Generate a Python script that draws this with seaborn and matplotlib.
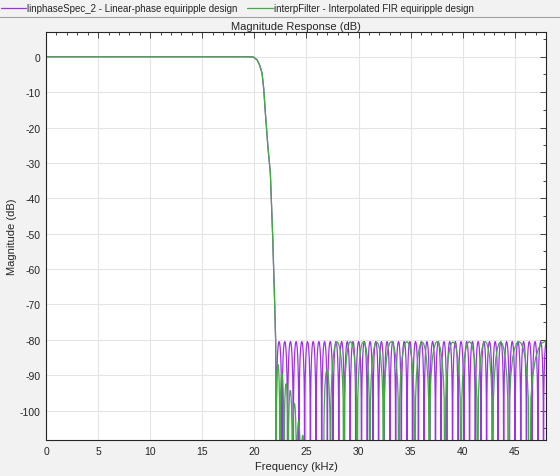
import matplotlib

matplotlib.use("Agg")

import matplotlib.pyplot as plt
import numpy as np
import seaborn as sns
from matplotlib.lines import Line2D
from matplotlib.ticker import MultipleLocator

# transition band (shared by both designs), kHz / dB
trans_freq = [0.0, 19.0, 19.9, 20.26, 20.5, 20.74, 20.9, 21.06, 21.3, 21.54, 21.76, 21.95, 22.05]
trans_db = [0.0, 0.0, -0.05, -0.85, -2.3, -4.6, -9.0, -15.9, -25.3, -33.0, -50.6, -69.4, -80.6]

# stopband lobes: null frequencies and peak level of each lobe
purple_nulls = [22.10, 22.65, 23.19, 23.74, 24.28, 24.83, 25.38, 25.92, 26.47, 27.01,
                27.56, 28.11, 28.65, 29.20, 29.74, 30.29, 30.84, 31.38, 31.93, 32.47,
                33.02, 33.57, 34.11, 34.66, 35.20, 35.75, 36.30, 36.84, 37.39, 37.93,
                38.48, 39.03, 39.57, 40.12, 40.66, 41.21, 41.76, 42.30, 42.85, 43.39,
                43.94, 44.49, 45.03, 45.58, 46.12, 46.67, 47.22, 47.76, 48.31]
purple_peaks = [-80.5] * (len(purple_nulls) - 1)

green_nulls = [22.10, 22.45, 22.85, 23.25, 23.65, 24.05, 24.45, 24.85, 25.25, 25.65,
               26.05, 26.65, 27.30, 28.59, 29.87, 31.09, 32.40, 33.88, 35.41, 36.80,
               38.30, 39.84, 41.44, 42.88, 44.40, 46.40, 49.40]
green_peaks = [-87.0, -89.6, -92.4, -94.3, -98.0, -103.0, -107.0, -112.0, -114.0, -116.0,
               -114.0, -88.5, -80.6, -80.5, -80.5, -80.6, -80.5, -80.5, -80.6, -80.5,
               -80.6, -80.5, -80.5, -80.6, -80.5, -80.5]

# shape of one stopband lobe (fraction across lobe, dB below lobe peak)
lobe_frac = [0.0, 0.05, 0.1, 0.2, 0.3, 0.4, 0.5, 0.6, 0.7, 0.8, 0.9, 0.95]
lobe_db = [-60.0, -16.0, -10.2, -4.6, -1.8, -0.4, 0.0, -0.4, -1.8, -4.6, -10.2, -16.0]

PURPLE = "#a030e8"
GREEN = "#3fae3f"


def build_trace(nulls, peaks):
    xs = list(trans_freq)
    ys = list(trans_db)
    for i, pk in enumerate(peaks):
        lo, hi = nulls[i], nulls[i + 1]
        for f, d in zip(lobe_frac, lobe_db):
            xs.append(lo + f * (hi - lo))
            ys.append(pk + d)
    xs.append(nulls[-1])
    ys.append(-140.0)
    return np.array(xs), np.array(ys)


sns.set_theme(style="whitegrid")
plt.rcParams["font.family"] = ["Liberation Sans", "DejaVu Sans"]
plt.rcParams["axes.unicode_minus"] = False

fig = plt.figure(figsize=(5.6, 4.77), dpi=100)
fig.patch.set_facecolor("#f2f2f2")
ax = fig.add_axes([46 / 560, 36 / 477, 500 / 560, 408 / 477])
ax.set_facecolor("white")

px, py = build_trace(purple_nulls, purple_peaks)
gx, gy = build_trace(green_nulls, green_peaks)
sns.lineplot(x=px, y=py, sort=False, estimator=None, color=PURPLE, lw=0.9, ax=ax)
sns.lineplot(x=gx, y=gy, sort=False, estimator=None, color=GREEN, lw=0.9, ax=ax)

ax.set_xlim(0, 48)
ax.set_ylim(-108.3, 7)
ax.xaxis.set_major_locator(MultipleLocator(5))
ax.xaxis.set_minor_locator(MultipleLocator(1))
ax.yaxis.set_major_locator(MultipleLocator(10))
ax.yaxis.set_minor_locator(MultipleLocator(5))
ax.set_yticks(range(0, -101, -10))
ax.grid(True, which="major", color="#e4e4e4", lw=0.8)
ax.tick_params(which="both", direction="in", top=True, right=True, colors="#262626",
               labelsize=7.5, pad=4)
ax.tick_params(which="major", length=4, width=0.6)
ax.tick_params(which="minor", length=2.5, width=0.6)
for s in ax.spines.values():
    s.set_color("#262626")
    s.set_linewidth(0.8)

ax.set_xlabel("Frequency (kHz)", fontsize=8, color="#262626", labelpad=4)
ax.set_ylabel("Magnitude (dB)", fontsize=8, color="#262626", labelpad=2)
ax.set_title("Magnitude Response (dB)", fontsize=8, color="#262626", pad=2)

handles = [Line2D([], [], color=PURPLE, lw=0.9), Line2D([], [], color=GREEN, lw=0.9)]
labels = ["linphaseSpec_2 - Linear-phase equiripple design",
          "interpFilter - Interpolated FIR equiripple design"]
fig.legend(handles, labels, loc="upper left", bbox_to_anchor=(0.0, 1 - 3.5 / 477), ncol=2,
           frameon=False, fontsize=7, handlelength=2.6, handletextpad=0.1,
           columnspacing=1.0, borderaxespad=0.0, borderpad=0.1)
fig.add_artist(Line2D([0, 1], [1 - 17.5 / 477, 1 - 17.5 / 477], color="#a0a0a0", lw=0.8,
                      transform=fig.transFigure))

fig.savefig("out.png", dpi=100, facecolor=fig.get_facecolor())
